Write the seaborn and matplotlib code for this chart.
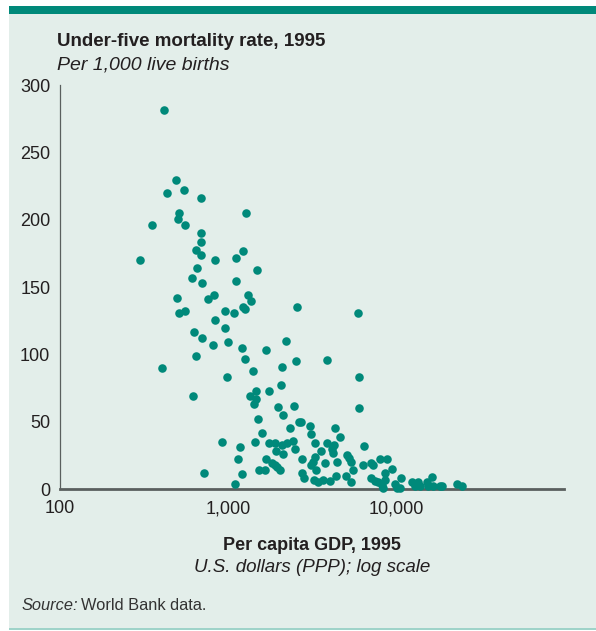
import matplotlib
matplotlib.use("Agg")
import matplotlib.pyplot as plt
import seaborn as sns
import pandas as pd
from matplotlib.patches import Rectangle
from matplotlib.ticker import NullLocator

# Per capita GDP, 1995 (US$ PPP)
gdp = [414, 490, 432, 550, 691, 509, 506, 351, 553, 693,
       693, 645, 688, 300, 840, 1111, 1228, 1280, 1483, 657,
       613, 700, 1111, 499, 763, 829, 1310, 1365, 2564, 513,
       553, 960, 1090, 1228, 1257, 837, 960, 628, 697, 814,
       996, 1211, 2224, 1683, 642, 1257, 2541, 405, 1403, 2096,
       986, 1473, 1352, 1468, 1428, 1754, 2067, 621, 1993, 2470,
       2125, 1509, 2656, 2330, 1600, 917, 1442, 1747, 1912, 2096,
       2235, 2447, 1184, 1931, 2134, 2494, 1142, 1690, 1828, 1897,
       1950, 2040, 1536, 1653, 717, 1217, 1096, 5916, 3869, 6024,
       5998, 2731, 3064, 3106, 4335, 4642, 3295, 3869, 4275, 4142,
       4200, 3579, 6425, 2768, 3311, 3206, 3106, 3793, 4453, 5088,
       5250, 5373, 6362, 5524, 7066, 7295, 8068, 8813, 9468, 8604,
       10760, 2768, 2833, 3339, 3251, 3433, 3693, 4047, 4397, 5037,
       5418, 7099, 7530, 7852, 8224, 8604, 8335, 9863, 10090, 10560,
       12400, 12970, 13580, 13890, 15230, 15570, 16320, 16670, 18280, 18710,
       22960, 24600]

# Under-five mortality rate, 1995 (per 1,000 live births)
u5mr = [282, 230, 220, 222, 216, 205, 201, 196, 196, 190,
        184, 178, 174, 170, 170, 172, 177, 205, 163, 164,
        157, 153, 155, 142, 141, 144, 144, 140, 135, 131,
        132, 132, 131, 135, 134, 126, 120, 117, 112, 107,
        109, 105, 110, 103, 99, 97, 95, 90, 88, 91,
        83, 73, 69, 67, 63, 73, 77, 69, 61, 62,
        55, 52, 50, 45, 42, 35, 35, 34, 34, 33,
        34, 36, 31, 28, 26, 30, 22, 22, 19, 18,
        16, 14, 14, 14, 12, 11, 4, 131, 96, 83,
        60, 50, 47, 41, 45, 39, 34, 34, 33, 30,
        27, 28, 32, 22, 24, 20, 18, 19, 20, 25,
        23, 20, 18, 14, 19, 18, 22, 22, 15, 12,
        8, 12, 8, 14, 7, 5, 7, 6, 10, 10,
        5, 8, 6, 5, 3, 7, 1, 4, 1, 0.5,
        5, 2, 5, 2, 5, 2, 9, 2, 2, 2,
        4, 2]

x_ticks = [100, 1000, 10000]
x_tick_labels = ["100", "1,000", "10,000"]
y_ticks = [0, 50, 100, 150, 200, 250, 300]
y_tick_labels = ["0", "50", "100", "150", "200", "250", "300"]

TEAL = "#00897A"
PANEL = "#E3EEEA"
TEXT = "#231F20"
AXIS = "#5A5F5E"

sns.set_theme(style="white")
plt.rcParams['font.family'] = ['Liberation Sans', 'DejaVu Sans']

W, H = 596, 631
fig = plt.figure(figsize=(W / 100, H / 100), dpi=100)
fig.patch.set_facecolor("white")


def fx(px):
    return px / W


def fy(py):
    return 1 - py / H


# background panel, top bar, bottom rule
fig.patches.append(Rectangle((fx(9), fy(628)), 1 - fx(9), fy(6) - fy(628),
                             transform=fig.transFigure, facecolor=PANEL,
                             edgecolor="none", zorder=-2))
fig.patches.append(Rectangle((fx(9), fy(14)), 1 - fx(9), fy(6) - fy(14),
                             transform=fig.transFigure, facecolor=TEAL,
                             edgecolor="none", zorder=-1))
fig.patches.append(Rectangle((fx(9), fy(629.5)), 1 - fx(9), fy(627.5) - fy(629.5),
                             transform=fig.transFigure, facecolor="#9FD3C9",
                             edgecolor="none", zorder=-1))

ax = fig.add_axes([fx(60), fy(489), fx(564) - fx(60), fy(85.5) - fy(489)])
ax.set_facecolor("none")
ax.set_zorder(2)

df = pd.DataFrame({"gdp": gdp, "u5mr": u5mr})
sns.scatterplot(data=df, x="gdp", y="u5mr", ax=ax, color=TEAL, s=38,
                linewidth=0, clip_on=False, zorder=3, legend=False)

ax.set_xscale("log")
ax.set_xlim(100, 100000)
ax.set_ylim(0, 300)
ax.xaxis.set_minor_locator(NullLocator())
ax.set_xticks(x_ticks, labels=x_tick_labels)
ax.set_yticks(y_ticks, labels=y_tick_labels)
ax.tick_params(axis="both", length=0, labelsize=13, labelcolor=TEXT)
ax.tick_params(axis="x", pad=8)
ax.tick_params(axis="y", pad=7)
ax.set_xlabel("")
ax.set_ylabel("")

for s in ["top", "right"]:
    ax.spines[s].set_visible(False)
ax.spines["left"].set_color(AXIS)
ax.spines["left"].set_linewidth(0.9)
ax.spines["bottom"].set_color(AXIS)
ax.spines["bottom"].set_linewidth(2.0)

fig.text(fx(57), fy(42), "Under-five mortality rate, 1995", fontsize=13.5,
         fontweight="bold", color=TEXT, va="center", ha="left")
fig.text(fx(57), fy(65), "Per 1,000 live births", fontsize=14,
         fontstyle="italic", color=TEXT, va="center", ha="left")
fig.text(fx(312), fy(545), "Per capita GDP, 1995", fontsize=13,
         fontweight="bold", color=TEXT, va="center", ha="center")
fig.text(fx(312), fy(568), "U.S. dollars (PPP); log scale", fontsize=13.5,
         fontstyle="italic", color=TEXT, va="center", ha="center")

src = fig.text(fx(22), fy(605), "Source:", fontsize=11.8, fontstyle="italic",
               color="#333333", va="center", ha="left")
renderer = fig.canvas.get_renderer()
bb = src.get_window_extent(renderer=renderer)
fig.text(bb.x1 / W + fx(3), fy(605), "World Bank data.", fontsize=11.8,
         color="#333333", va="center", ha="left")

fig.savefig("out.png", dpi=100, facecolor="white")
